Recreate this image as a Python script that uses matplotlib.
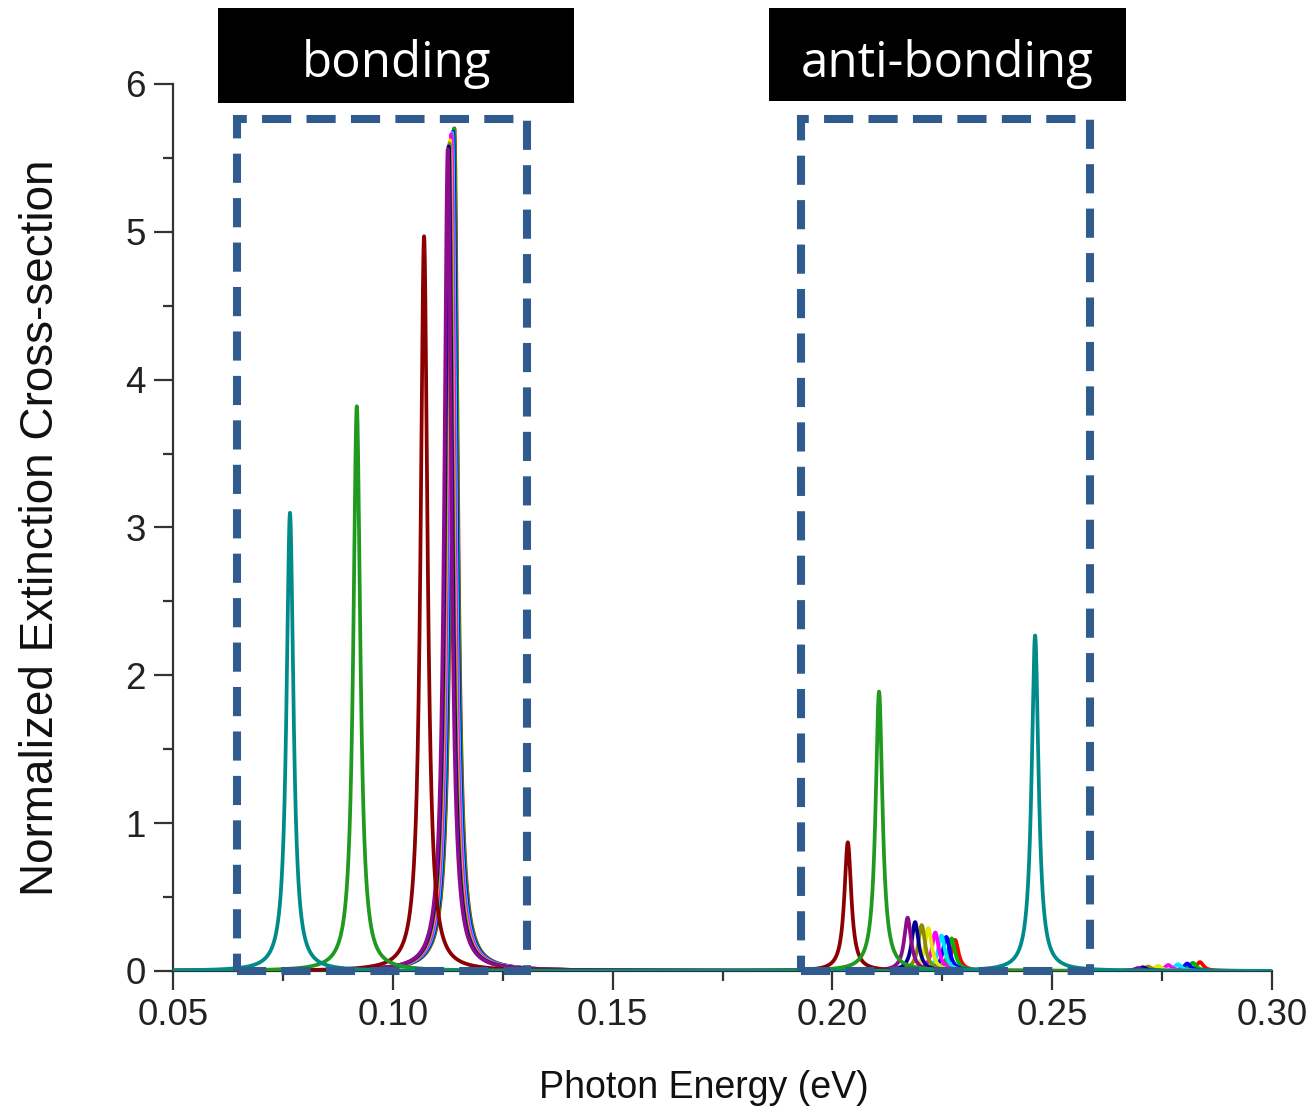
import numpy as np
import matplotlib
matplotlib.use("Agg")
import matplotlib.pyplot as plt
from matplotlib.patches import Rectangle
from matplotlib.ticker import MultipleLocator

# ── peak data (one entry per spectrum) ───────────────────────────────
colors = ["#ff0000", "#00b400", "#0000ff", "#00e5ff", "#ff00ff",
          "#e8e800", "#8c8c00", "#000090", "#8e0b8e",
          "#8b0000", "#1f9a1f", "#008b8b"]

bond_pos = [0.1140, 0.1139, 0.1137, 0.1135, 0.1133, 0.1130, 0.1129, 0.1127, 0.1125,
            0.1071, 0.0918, 0.0766]
bond_amp = [5.70, 5.70, 5.68, 5.67, 5.66, 5.62, 5.60, 5.58, 5.56,
            4.97, 3.82, 3.10]

anti_pos = [0.2279, 0.2271, 0.2259, 0.2248, 0.2234, 0.2218, 0.2203, 0.2188, 0.2171,
            0.2035, 0.2106, 0.2461]
anti_amp = [0.21, 0.22, 0.23, 0.24, 0.26, 0.29, 0.31, 0.33, 0.36,
            0.87, 1.89, 2.27]

high_pos = [0.2836, 0.2820, 0.2807, 0.2786, 0.2764, 0.2741, 0.2718, 0.2706, 0.2695,
            np.nan, np.nan, np.nan]
high_amp = [0.06, 0.055, 0.05, 0.045, 0.04, 0.035, 0.03, 0.025, 0.02,
            0.0, 0.0, 0.0]

hwhm = 0.00095

x_ticks = [0.05, 0.10, 0.15, 0.20, 0.25, 0.30]
x_labels = ["0.05", "0.10", "0.15", "0.20", "0.25", "0.30"]
y_ticks = [0, 1, 2, 3, 4, 5, 6]

boxes = [("bonding", 0.0646, 0.1305), ("anti-bonding", 0.1929, 0.2586)]


def lorentz(x, c, a, w=hwhm):
    if np.isnan(c):
        return np.zeros_like(x)
    return a / (1 + ((x - c) / w) ** 2)


plt.rcParams["font.family"] = ["Liberation Sans", "DejaVu Sans"]
plt.rcParams["lines.scale_dashes"] = False

fig = plt.figure(figsize=(13.16, 11.14), dpi=100)
ax = fig.add_axes([0.1315, 0.1284, 0.8351, 0.7962])

x = np.linspace(0.05, 0.30, 6000)
for i, col in enumerate(colors):
    y = (lorentz(x, bond_pos[i], bond_amp[i]) + lorentz(x, anti_pos[i], anti_amp[i])
         + lorentz(x, high_pos[i], high_amp[i]))
    ax.plot(x, y, color=col, lw=2.7, zorder=2 + i)

ax.set_xlim(0.05, 0.30)
ax.set_ylim(0, 6)
ax.set_xticks(x_ticks)
ax.set_xticklabels(x_labels)
ax.set_yticks(y_ticks)
ax.xaxis.set_minor_locator(MultipleLocator(0.025))
ax.yaxis.set_minor_locator(MultipleLocator(0.5))
ax.tick_params(which="major", direction="out", length=13.5, width=1.6,
               labelsize=26.5, colors="#333333", labelcolor="#222222", pad=6)
ax.tick_params(which="minor", direction="out", length=7, width=1.6, colors="#333333")
for s in ["top", "right"]:
    ax.spines[s].set_visible(False)
for s in ["left", "bottom"]:
    ax.spines[s].set_linewidth(1.6)
    ax.spines[s].set_color("#333333")

ax.set_xlabel("Photon Energy (eV)", fontsize=27, color="#111111")
ax.xaxis.set_label_coords(0.483, -0.112)
ax.set_ylabel("Normalized Extinction Cross-section", fontsize=33, color="#111111")
ax.yaxis.set_label_coords(-0.100, 0.5)

# dashed region frames + black title boxes
for label, x0, x1 in boxes:
    ax.add_patch(Rectangle((x0, 0), x1 - x0, 5.765, fill=False, ec="#2f5b8e",
                           lw=5.8, ls=(0, (21, 11)), zorder=30, clip_on=False))

fig.patches.append(Rectangle((0.1657, 0.9076), 0.2705, 0.0853, transform=fig.transFigure,
                             fc="black", ec="none", figure=fig))
fig.patches.append(Rectangle((0.5843, 0.9094), 0.2713, 0.0835, transform=fig.transFigure,
                             fc="black", ec="none", figure=fig))
fig.text(0.301, 0.931, "bonding", color="white", fontsize=35.5, ha="center", va="baseline",
         family=["Open Sans", "DejaVu Sans"])
fig.text(0.7196, 0.931, "anti-bonding", color="white", fontsize=35.5, ha="center",
         va="baseline", family=["Open Sans", "DejaVu Sans"])

fig.savefig("out.png", dpi=100)
